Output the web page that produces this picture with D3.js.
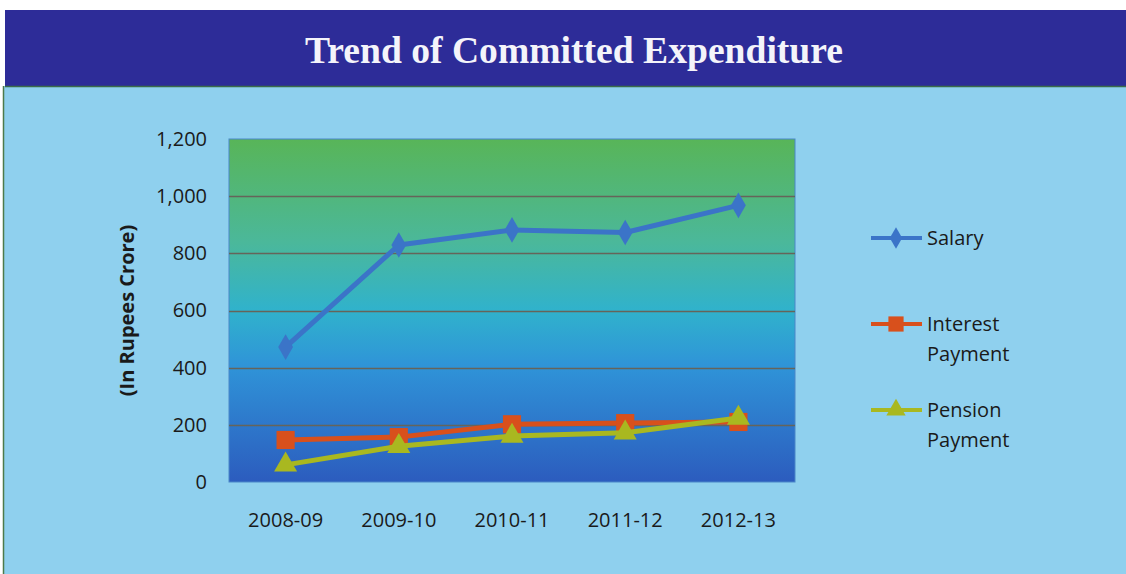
<!DOCTYPE html>
<html>
<head>
<meta charset="utf-8">
<script src="https://cdnjs.cloudflare.com/ajax/libs/d3/7.8.5/d3.min.js"></script>
<style>
  body { margin: 0; background: #fff; }
  svg { display: block; }
  text { font-family: "Open Sans", "Noto Sans", sans-serif; fill: #1a1a1a; }
  .title { font-family: "Liberation Serif", "DejaVu Serif", serif; font-weight: bold; fill: #f4f4fa; }
</style>
</head>
<body>
<div id="chart"></div>
<script>
var years = ['2008-09', '2009-10', '2010-11', '2011-12', '2012-13'];
var salary = [472, 829, 882, 873, 968];
var interest = [147, 157, 202, 206, 210];
var pension = [60, 125, 161, 172, 224];
var yTicks = [0, 200, 400, 600, 800, 1000, 1200];
var seriesNames = [['Salary'], ['Interest', 'Payment'], ['Pension', 'Payment']];

var size = { w: 1126, h: 574 };
var plot = { left: 229, right: 795, top: 139, bottom: 482 };
var fs = 20;

var series = [
  { name: seriesNames[0], values: salary, color: '#3b74c8', shape: d3.symbolDiamond, r: 190 },
  { name: seriesNames[1], values: interest, color: '#d8501c', shape: d3.symbolSquare, r: 330 },
  { name: seriesNames[2], values: pension, color: '#a9b820', shape: d3.symbolTriangle, r: 230 },
];

var svg = d3.select('#chart').append('svg')
  .attr('width', size.w)
  .attr('height', size.h);

// background panel
svg.append('rect')
  .attr('x', 3).attr('y', 86)
  .attr('width', size.w - 3).attr('height', size.h - 86)
  .attr('fill', '#8fd0ee');
svg.append('line')
  .attr('x1', 3.5).attr('x2', 3.5).attr('y1', 86).attr('y2', size.h)
  .attr('stroke', '#4d7a4a').attr('stroke-width', 1.5);

// header band
svg.append('rect')
  .attr('x', 5).attr('y', 10)
  .attr('width', size.w - 5).attr('height', 77)
  .attr('fill', '#2d2c98');
svg.append('line')
  .attr('x1', 5).attr('x2', size.w).attr('y1', 86.5).attr('y2', 86.5)
  .attr('stroke', '#3b6b4a').attr('stroke-width', 1.5);
svg.append('text')
  .attr('class', 'title')
  .attr('x', 574).attr('y', 63)
  .attr('text-anchor', 'middle')
  .attr('font-size', 38)
  .attr('textLength', 538)
  .attr('lengthAdjust', 'spacingAndGlyphs')
  .text('Trend of Committed Expenditure');

// gradient for plot area
var defs = svg.append('defs');
var grad = defs.append('linearGradient')
  .attr('id', 'plotbg')
  .attr('x1', 0).attr('y1', 0).attr('x2', 0).attr('y2', 1);
[['0%', '#58b558'], ['30%', '#4bb89a'], ['50%', '#30b2cc'], ['66%', '#2f94d8'], ['100%', '#2c5cbe']]
  .forEach(function(s) {
    grad.append('stop').attr('offset', s[0]).attr('stop-color', s[1]);
  });

// scales
var x = d3.scaleBand()
  .domain(years)
  .range([plot.left, plot.right]);
var y = d3.scaleLinear()
  .domain([0, 1200])
  .range([plot.bottom, plot.top]);

svg.append('rect')
  .attr('x', plot.left).attr('y', plot.top)
  .attr('width', plot.right - plot.left).attr('height', plot.bottom - plot.top)
  .attr('fill', 'url(#plotbg)')
  .attr('stroke', '#4a86c8')
  .attr('stroke-width', 1);

// gridlines
svg.append('g')
  .selectAll('line')
  .data(yTicks.filter(function(d) { return d > 0 && d < 1200; }))
  .enter().append('line')
  .attr('x1', plot.left).attr('x2', plot.right)
  .attr('y1', function(d) { return Math.round(y(d)) + 0.5; })
  .attr('y2', function(d) { return Math.round(y(d)) + 0.5; })
  .attr('stroke', '#66645a')
  .attr('stroke-width', 1.4);

// y axis
var yAxis = d3.axisLeft(y)
  .tickValues(yTicks)
  .tickSize(0)
  .tickPadding(22)
  .tickFormat(d3.format(','));
svg.append('g')
  .attr('transform', 'translate(' + plot.left + ',0)')
  .call(yAxis)
  .call(function(g) {
    g.select('.domain').remove();
    g.selectAll('text').attr('font-size', fs).attr('fill', '#1a1a1a')
      .attr('font-family', '"Open Sans", sans-serif');
  });

svg.append('text')
  .attr('transform', 'translate(134,' + y(600) + ') rotate(-90)')
  .attr('text-anchor', 'middle')
  .attr('font-size', fs)
  .attr('font-weight', 'bold')
  .text('(In Rupees Crore)');

// x axis
var xAxis = d3.axisBottom(x).tickSize(0);
svg.append('g')
  .attr('transform', 'translate(0,' + plot.bottom + ')')
  .call(xAxis)
  .call(function(g) {
    g.select('.domain').remove();
    g.selectAll('text').attr('font-size', fs).attr('fill', '#1a1a1a')
      .attr('font-family', '"Open Sans", sans-serif')
      .attr('y', 45).attr('dy', 0);
  });

// lines + markers
var line = d3.line()
  .x(function(d, i) { return x(years[i]) + x.bandwidth() / 2; })
  .y(function(d) { return y(d); });

series.forEach(function(s) {
  var g = svg.append('g');
  g.append('path')
    .attr('d', line(s.values))
    .attr('fill', 'none')
    .attr('stroke', s.color)
    .attr('stroke-width', 5)
    .attr('stroke-linejoin', 'round');
  g.selectAll('path.marker')
    .data(s.values)
    .enter().append('path')
    .attr('class', 'marker')
    .attr('d', d3.symbol().type(s.shape).size(s.r))
    .attr('transform', function(d, i) {
      return 'translate(' + (x(years[i]) + x.bandwidth() / 2) + ',' + y(d) + ')';
    })
    .attr('fill', s.color);
});

// legend
var legendY = [238, 324, 410];
series.forEach(function(s, i) {
  var g = svg.append('g').attr('transform', 'translate(0,' + legendY[i] + ')');
  g.append('line')
    .attr('x1', 871).attr('x2', 922)
    .attr('stroke', s.color).attr('stroke-width', 4);
  g.append('path')
    .attr('d', d3.symbol().type(s.shape).size(s.r * 0.7))
    .attr('transform', 'translate(896,0)')
    .attr('fill', s.color);
  s.name.forEach(function(t, j) {
    g.append('text')
      .attr('x', 927).attr('y', j * 30)
      .attr('dy', '0.35em')
      .attr('font-size', fs)
      .text(t);
  });
});
</script>
</body>
</html>
